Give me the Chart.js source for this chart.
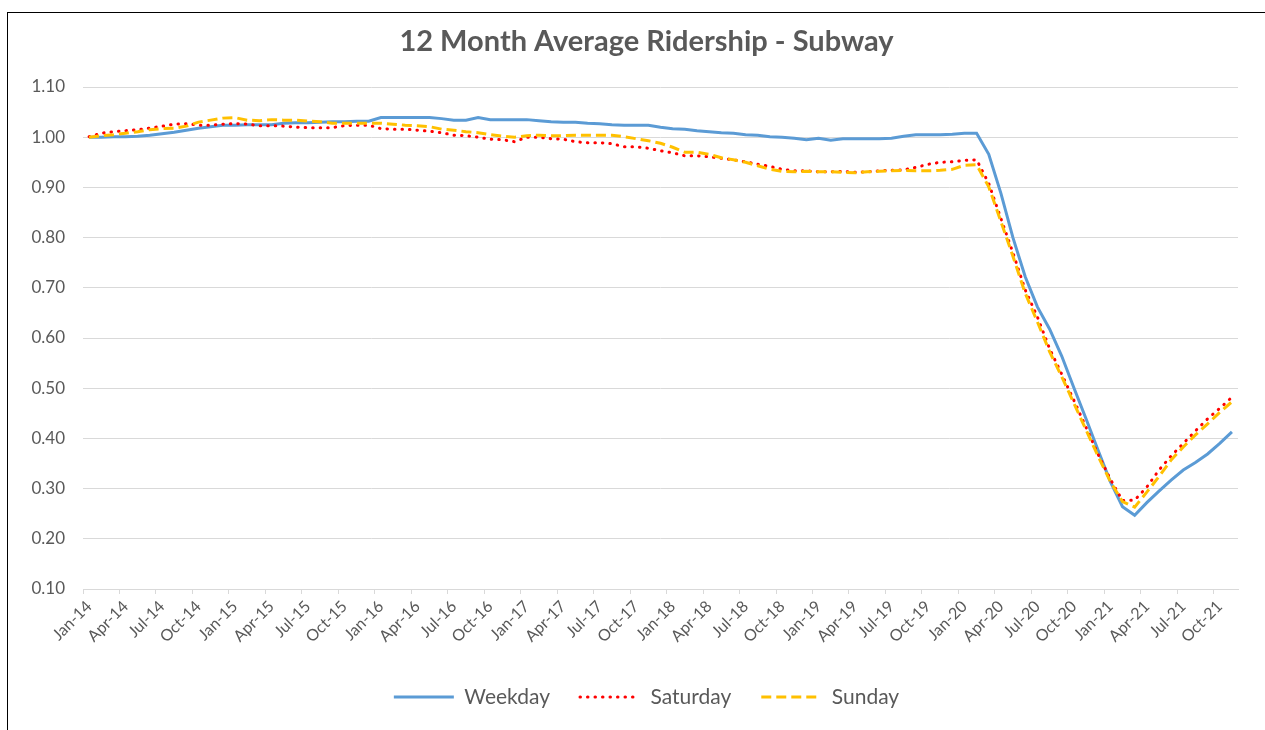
<!DOCTYPE html>
<html>
<head>
<meta charset="utf-8">
<script src="https://cdn.jsdelivr.net/npm/chart.js@4"></script>
<style>
  html, body { margin: 0; padding: 0; background: #fff; overflow: hidden; }
  #frame { position: absolute; left: 7px; top: 12px; width: 1400px; height: 900px; border-left: 1px solid #000; border-top: 1px solid #000; }
  #wrap { position: absolute; left: 0; top: 0; width: 1265px; height: 730px; }
</style>
</head>
<body>
<div id="frame"></div>
<div id="wrap"><canvas id="myChart" width="1265" height="730"></canvas></div>
<script>
// 12 month rolling average, Jan-14 .. Nov-21
const weekday = [
    1.000, 1.000, 1.001, 1.001, 1.002, 1.004, 1.007, 1.010, 1.014, 1.018, 1.021, 1.024,
    1.024, 1.025, 1.025, 1.025, 1.028, 1.029, 1.029, 1.030, 1.031, 1.031, 1.032, 1.032,
    1.039, 1.039, 1.039, 1.039, 1.039, 1.037, 1.034, 1.034, 1.039, 1.035, 1.035, 1.035,
    1.035, 1.033, 1.031, 1.030, 1.030, 1.028, 1.027, 1.025, 1.024, 1.024, 1.024, 1.020,
    1.017, 1.016, 1.013, 1.011, 1.009, 1.008, 1.005, 1.004, 1.001, 1.000, 0.998, 0.995,
    0.998, 0.994, 0.997, 0.997, 0.997, 0.997, 0.998, 1.002, 1.005, 1.005, 1.005, 1.006,
    1.008, 1.008, 0.966, 0.888, 0.799, 0.722, 0.662, 0.618, 0.564, 0.501, 0.439, 0.376,
    0.314, 0.264, 0.247, 0.272, 0.295, 0.317, 0.337, 0.352, 0.369, 0.390, 0.413
];
const saturday = [
    1.001, 1.008, 1.011, 1.013, 1.015, 1.018, 1.022, 1.026, 1.027, 1.024, 1.024, 1.026,
    1.027, 1.026, 1.023, 1.023, 1.022, 1.020, 1.019, 1.019, 1.019, 1.023, 1.024, 1.024,
    1.017, 1.016, 1.016, 1.014, 1.012, 1.009, 1.004, 1.003, 1.000, 0.996, 0.995, 0.991,
    1.000, 1.000, 0.997, 0.996, 0.991, 0.989, 0.989, 0.987, 0.981, 0.981, 0.978, 0.973,
    0.969, 0.963, 0.963, 0.961, 0.958, 0.955, 0.951, 0.946, 0.942, 0.936, 0.933, 0.933,
    0.931, 0.931, 0.932, 0.930, 0.931, 0.933, 0.934, 0.935, 0.940, 0.946, 0.950, 0.951,
    0.954, 0.955, 0.908, 0.838, 0.769, 0.696, 0.642, 0.579, 0.528, 0.476, 0.422, 0.368,
    0.319, 0.276, 0.277, 0.303, 0.337, 0.365, 0.390, 0.415, 0.439, 0.460, 0.482
];
const sunday = [
    1.000, 1.003, 1.005, 1.008, 1.011, 1.015, 1.017, 1.018, 1.022, 1.030, 1.034, 1.038,
    1.039, 1.034, 1.033, 1.035, 1.034, 1.034, 1.032, 1.031, 1.028, 1.028, 1.028, 1.028,
    1.028, 1.026, 1.024, 1.023, 1.021, 1.016, 1.014, 1.011, 1.009, 1.005, 1.002, 1.000,
    1.003, 1.004, 1.003, 1.003, 1.004, 1.004, 1.004, 1.004, 1.001, 0.997, 0.993, 0.988,
    0.980, 0.970, 0.970, 0.966, 0.959, 0.955, 0.950, 0.943, 0.936, 0.932, 0.931, 0.932,
    0.931, 0.931, 0.930, 0.929, 0.931, 0.932, 0.933, 0.934, 0.933, 0.933, 0.934, 0.936,
    0.944, 0.945, 0.901, 0.832, 0.762, 0.689, 0.632, 0.573, 0.523, 0.470, 0.417, 0.364,
    0.314, 0.274, 0.263, 0.293, 0.324, 0.357, 0.383, 0.407, 0.429, 0.452, 0.473
];

const monthNames = ['Jan', 'Feb', 'Mar', 'Apr', 'May', 'Jun', 'Jul', 'Aug', 'Sep', 'Oct', 'Nov', 'Dec'];
const startYear = 14;
const labels = [];
for (let i = 0; i < weekday.length; i++) {
    labels.push(monthNames[i % 12] + '-' + (startYear + Math.floor(i / 12)));
}

const textColor = '#595959';
const gridColor = '#d9d9d9';
const fontFamily = 'Lato, "Liberation Sans", sans-serif';

const ctx = document.getElementById('myChart').getContext('2d');
const myChart = new Chart(ctx, {
    type: 'line',
    data: {
        labels: labels,
        datasets: [{
            label: 'Weekday',
            data: weekday,
            borderColor: '#5B9BD5',
            backgroundColor: '#5B9BD5',
            borderWidth: 3,
            pointRadius: 0,
            order: 3
        }, {
            label: 'Saturday',
            data: saturday,
            borderColor: '#FF0000',
            backgroundColor: '#FF0000',
            borderWidth: 3,
            borderDash: [0.5, 7],
            borderCapStyle: 'round',
            pointRadius: 0,
            order: 2
        }, {
            label: 'Sunday',
            data: sunday,
            borderColor: '#FFC000',
            backgroundColor: '#FFC000',
            borderWidth: 3,
            borderDash: [10, 5],
            pointRadius: 0,
            order: 1
        }]
    },
    options: {
        responsive: false,
        animation: false,
        devicePixelRatio: 1,
        layout: {
            padding: { left: 28, right: 0, top: 0, bottom: 12.5 }
        },
        scales: {
            x: {
                offset: true,
                grid: {
                    offset: true,
                    drawOnChartArea: false,
                    tickLength: 5,
                    color: (c) => (c.index % 3 === 0 ? gridColor : 'rgba(0,0,0,0)')
                },
                border: { display: true, color: gridColor },
                ticks: {
                    autoSkip: false,
                    maxRotation: 45,
                    minRotation: 45,
                    padding: 3,
                    color: textColor,
                    font: { family: fontFamily, size: 16 },
                    callback: (value, index) => (index % 3 === 0 ? labels[index] : '')
                },
                afterFit: (scale) => { scale.height = 67.5; }
            },
            y: {
                min: 0.1,
                max: 1.1,
                grid: { color: gridColor, drawTicks: false },
                border: { display: false },
                ticks: {
                    stepSize: 0.1,
                    padding: 18,
                    color: textColor,
                    font: { family: fontFamily, size: 17 },
                    callback: (value) => value.toFixed(2)
                },
                afterFit: (scale) => { scale.width = 55; }
            },
            // empty box on the right so the chart area ends where the reference does
            yRight: {
                type: 'linear',
                position: 'right',
                grid: { display: false },
                border: { display: false },
                ticks: { display: false },
                afterFit: (scale) => { scale.width = 27; }
            }
        },
        plugins: {
            title: {
                display: true,
                text: '12 Month Average Ridership - Subway',
                color: textColor,
                font: { family: fontFamily, size: 29, weight: 'bold' },
                padding: { top: 24.6, bottom: 27.6 }
            },
            legend: {
                position: 'bottom',
                labels: {
                    usePointStyle: true,
                    pointStyle: 'line',
                    pointStyleWidth: 60,
                    padding: 30,
                    color: textColor,
                    font: { family: fontFamily, size: 21 },
                    sort: (a, b) => a.datasetIndex - b.datasetIndex,
                    generateLabels: (chart) => {
                        const items = Chart.defaults.plugins.legend.labels.generateLabels(chart);
                        items.forEach(item => {
                            const ds = chart.data.datasets[item.datasetIndex];
                            item.strokeStyle = ds.borderColor;
                            item.lineWidth = ds.borderWidth;
                            item.lineDash = ds.borderDash || [];
                            item.lineCap = ds.borderCapStyle || 'butt';
                        });
                        return items;
                    }
                }
            },
            tooltip: { enabled: false }
        }
    }
});
</script>
</body>
</html>
